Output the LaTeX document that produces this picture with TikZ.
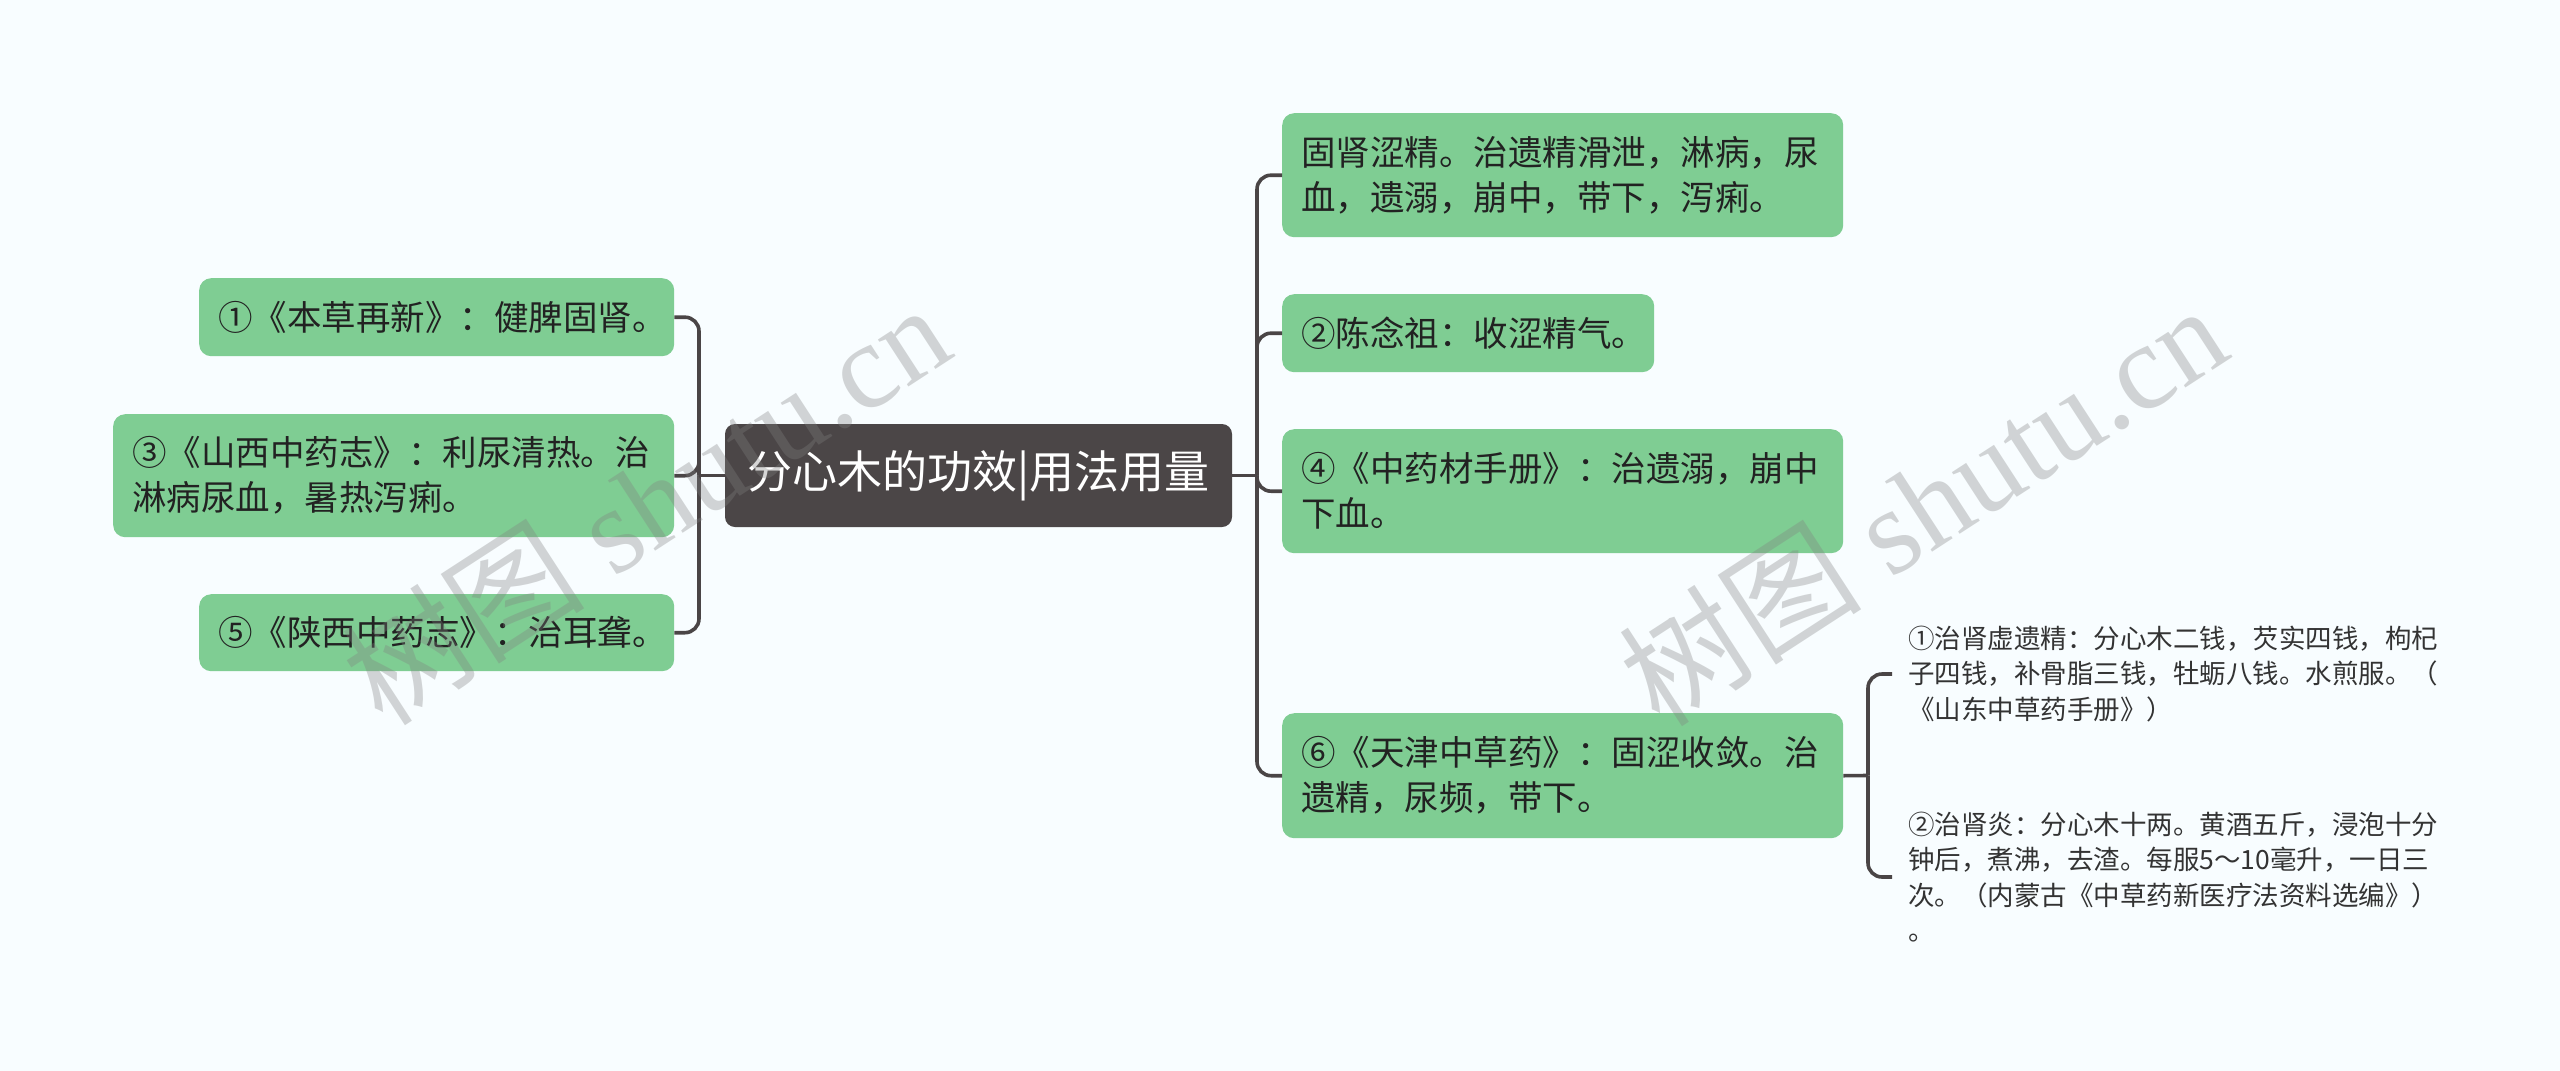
\documentclass[tikz,border=0pt]{standalone}
\usepackage{fontspec}
\setmainfont{Noto Sans CJK SC}
\newfontfamily\cjk{Noto Sans CJK SC}
\newfontfamily\wmfont{Liberation Serif}
\definecolor{bgcol}{HTML}{F8FDFF}
\definecolor{nodegreen}{HTML}{7FCD93}
\definecolor{rootdark}{HTML}{4B4647}
\definecolor{linecol}{HTML}{4A4546}
\definecolor{textdark}{HTML}{222222}
\definecolor{subtext}{HTML}{333333}
\begin{document}
\begin{tikzpicture}[x=1pt,y=-1pt,
  gbox/.style={fill=nodegreen, rounded corners=12pt, align=left, anchor=north west,
    inner xsep=19pt, inner ysep=0pt, text=textdark, font=\fontsize{34.5}{45}\selectfont},
  rootbox/.style={fill=rootdark, rounded corners=10pt, text=white, align=center,
    font=\fontsize{45}{52}\selectfont, inner sep=0pt},
  subtxt/.style={align=left, anchor=west, inner xsep=16pt, inner ysep=0pt, text=subtext,
    font=\fontsize{26.5}{35.5}\selectfont},
  conn/.style={draw=linecol, line width=3.6pt, rounded corners=14pt},
  wm/.style={rotate=33, text=gray, opacity=0.33, inner sep=0pt}
]
\useasboundingbox (0,0) rectangle (2560,1071);
\fill[bgcol] (0,0) rectangle (2560,1071);

% root
\node[rootbox, minimum width=507pt, minimum height=103pt] (root) at (978.5,475.5) {分心木的功效|用法用量};

% left nodes
\node[gbox, text width=437pt, minimum height=78pt] (L1) at (199,278) {①《本草再新》：健脾固肾。};
\node[gbox, text width=523pt, minimum height=123pt] (L3) at (113,414) {③《山西中药志》：利尿清热。治\\淋病尿血，暑热泻痢。};
\node[gbox, text width=437pt, minimum height=77pt] (L5) at (199,594) {⑤《陕西中药志》：治耳聋。};

% right nodes
\node[gbox, text width=523pt, minimum height=124pt] (R1) at (1282,113) {固肾涩精。治遗精滑泄，淋病，尿\\血，遗溺，崩中，带下，泻痢。};
\node[gbox, text width=334pt, minimum height=78pt] (R2) at (1282,294) {②陈念祖：收涩精气。};
\node[gbox, text width=523pt, minimum height=124pt] (R4) at (1282,429) {④《中药材手册》：治遗溺，崩中\\下血。};
\node[gbox, text width=523pt, minimum height=125pt] (R6) at (1282,713) {⑥《天津中草药》：固涩收敛。治\\遗精，尿频，带下。};

% sub nodes
\node[subtxt] (S1) at (1892,674) {①治肾虚遗精：分心木二钱，芡实四钱，枸杞\\子四钱，补骨脂三钱，牡蛎八钱。水煎服。（\\《山东中草药手册》）};
\node[subtxt] (S2) at (1892,877) {②治肾炎：分心木十两。黄酒五斤，浸泡十分\\钟后，煮沸，去渣。每服5～10毫升，一日三\\次。（内蒙古《中草药新医疗法资料选编》）\\。};

% connectors left
\coordinate (lj) at (699,475.5);
\draw[conn] (root.west) -- (lj);
\draw[conn] (lj) |- (L1.east);
\draw[conn] (lj) |- (L3.east);
\draw[conn] (lj) |- (L5.east);

% connectors right
\coordinate (rj) at (1257,475.5);
\draw[conn] (root.east) -- (rj);
\draw[conn] (rj) |- (R1.west);
\draw[conn] (rj) |- (R2.west);
\draw[conn] (rj) |- (R4.west);
\draw[conn] (rj) |- (R6.west);

% connectors sub
\coordinate (sj) at (1868,775.5);
\draw[conn] (R6.east) -- (sj);
\draw[conn] (sj) |- (S1.west);
\draw[conn] (sj) |- (S2.west);

% watermarks
\node[wm] (wm1) at (645,503) {\fontsize{122}{122}\selectfont\cjk 树图\hspace{0.25em}\wmfont shutu.cn};
\node[wm] (wm2) at (1922,504) {\fontsize{122}{122}\selectfont\cjk 树图\hspace{0.25em}\wmfont shutu.cn};
\end{tikzpicture}
\end{document}
